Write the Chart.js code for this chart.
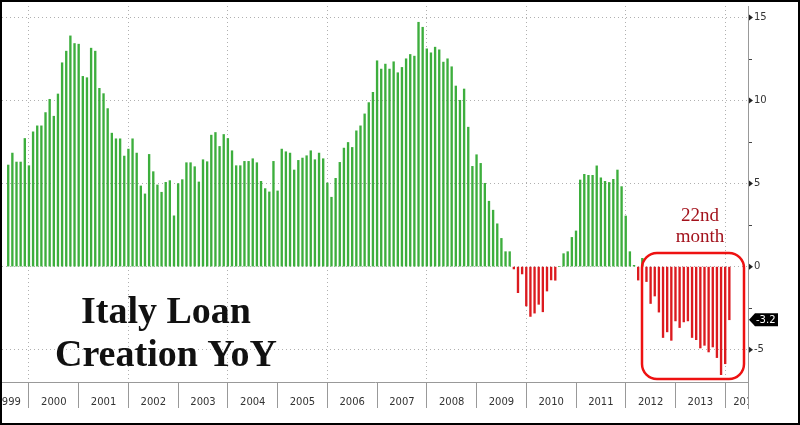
<!DOCTYPE html>
<html>
<head>
<meta charset="utf-8">
<title>Italy Loan Creation YoY</title>
<script src="https://cdn.jsdelivr.net/npm/chart.js@4.4.1/dist/chart.umd.min.js"></script>
<style>
  html, body { margin: 0; padding: 0; background: #fff; }
  canvas { display: block; }
</style>
</head>
<body>
<canvas id="chart" width="800" height="425"></canvas>
<script>
// Italy loan creation, % YoY, monthly (Jul 1999 - Jan 2014)
const y1999 = [6.12, 6.84, 6.3, 6.3, 7.72, 6.08];
const y2000 = [8.12, 8.48, 8.48, 9.28, 10.08, 9.06, 10.4, 12.28, 12.98, 13.9, 13.44, 13.4];
const y2001 = [11.46, 11.38, 13.16, 12.98, 10.74, 10.42, 9.52, 8.04, 7.7, 7.7, 6.66, 7.08];
const y2002 = [7.7, 6.84, 4.86, 4.38, 6.76, 5.72, 4.92, 4.48, 5.08, 5.18, 3.06, 5.0];
const y2003 = [5.24, 6.26, 6.26, 6.02, 5.1, 6.44, 6.32, 7.92, 8.08, 7.24, 7.96, 7.72];
const y2004 = [6.98, 6.08, 6.08, 6.34, 6.34, 6.5, 6.26, 5.14, 4.7, 4.5, 6.34, 4.56];
const y2005 = [7.08, 6.92, 6.84, 5.82, 6.4, 6.54, 6.68, 6.98, 6.44, 6.84, 6.5, 5.04];
const y2006 = [4.18, 5.32, 6.28, 7.14, 7.48, 7.18, 8.18, 8.48, 9.2, 9.88, 10.5, 12.4];
const y2007 = [11.9, 12.2, 11.9, 12.34, 11.68, 12.0, 12.52, 12.78, 12.68, 14.72, 14.42, 13.12];
const y2008 = [12.88, 13.22, 13.06, 12.32, 12.52, 12.04, 10.88, 10.02, 10.7, 8.4, 6.04, 6.74];
const y2009 = [6.22, 5.02, 3.94, 3.4, 2.58, 1.7, 0.9, 0.9, -0.14, -1.57, -0.44, -2.37];
const y2010 = [-3.0, -2.8, -2.27, -2.72, -1.47, -0.8, -0.82, 0, 0.78, 0.9, 1.76, 2.15];
const y2011 = [5.22, 5.56, 5.5, 5.5, 6.07, 5.35, 5.14, 5.07, 5.26, 5.82, 4.82, 3.05];
const y2012 = [0.9, 0.08, -0.81, 0.5, -0.9, -2.22, -1.77, -2.74, -4.27, -3.93, -4.44, -3.27];
const y2013 = [-3.67, -3.33, -3.27, -4.27, -4.4, -4.9, -4.74, -5.14, -4.84, -5.48, -6.51, -5.85];
const y2014 = [-3.2];

// x axis tick labels and the month each one sits on
const yearLabels = ['1999', '2000', '2001', '2002', '2003', '2004', '2005', '2006',
  '2007', '2008', '2009', '2010', '2011', '2012', '2013', '2014'];
const yearLabelAt = ['1999-07', '2000-06', '2001-06', '2002-06', '2003-06', '2004-06', '2005-06', '2006-06',
  '2007-06', '2008-06', '2009-06', '2010-06', '2011-06', '2012-06', '2013-06', '2014-05'];

// month categories, Jun 1999 .. May 2014 (empty months pad both ends)
const months = [];
for (let yr = 1999; yr <= 2014; yr++) {
  for (let m = 1; m <= 12; m++) {
    const key = yr + '-' + String(m).padStart(2, '0');
    if (key >= '1999-06' && key <= '2014-05') months.push(key);
  }
}
const values = [null].concat(y1999, y2000, y2001, y2002, y2003, y2004, y2005, y2006,
  y2007, y2008, y2009, y2010, y2011, y2012, y2013, y2014, [null, null, null, null]);

const GREEN = '#3dae3d';
const RED = '#dc1a1f';
const GRID = '#b0b0b0';
const NONE = 'rgba(0,0,0,0)';

// extra drawing: axis markers, last value tag, titles, red box, frame
const overlay = {
  id: 'overlay',
  afterDraw(chart) {
    const ctx = chart.ctx;
    const area = chart.chartArea;
    const yScale = chart.scales.y;
    ctx.save();

    // clip x labels past the right axis
    ctx.fillStyle = '#fff';
    ctx.fillRect(area.right + 1, area.bottom + 1, 60, 40);

    // axis line runs down through the label strip
    ctx.strokeStyle = '#999';
    ctx.lineWidth = 1;
    ctx.beginPath();
    ctx.moveTo(area.right + 0.5, area.bottom);
    ctx.lineTo(area.right + 0.5, area.bottom + 27);
    ctx.stroke();

    // little pointers on the major y ticks
    ctx.fillStyle = '#222';
    [-5, 0, 5, 10, 15].forEach(v => {
      const py = yScale.getPixelForValue(v);
      ctx.beginPath();
      ctx.moveTo(area.right + 1, py - 3);
      ctx.lineTo(area.right + 5, py);
      ctx.lineTo(area.right + 1, py + 3);
      ctx.closePath();
      ctx.fill();
    });

    // last value tag
    const last = y2014[y2014.length - 1];
    const ty = yScale.getPixelForValue(last);
    ctx.fillStyle = '#000';
    ctx.beginPath();
    ctx.moveTo(area.right + 1, ty);
    ctx.lineTo(area.right + 7, ty - 6.5);
    ctx.lineTo(area.right + 30, ty - 6.5);
    ctx.lineTo(area.right + 30, ty + 6.5);
    ctx.lineTo(area.right + 7, ty + 6.5);
    ctx.closePath();
    ctx.fill();
    ctx.fillStyle = '#fff';
    ctx.font = '10px "DejaVu Sans"';
    ctx.textAlign = 'left';
    ctx.textBaseline = 'middle';
    ctx.fillText(last.toFixed(1), area.right + 8, ty + 0.5);

    // title
    ctx.fillStyle = '#111';
    ctx.font = 'bold 38px "Liberation Serif"';
    ctx.textAlign = 'center';
    ctx.textBaseline = 'alphabetic';
    ctx.fillText('Italy Loan', 166, 323);
    ctx.fillText('Creation YoY', 166, 366);

    // annotation
    ctx.fillStyle = '#a3121c';
    ctx.font = '19px "Liberation Serif"';
    ctx.fillText('22nd', 700, 221);
    ctx.fillText('month', 700, 242);

    ctx.strokeStyle = '#ee1111';
    ctx.lineWidth = 2.5;
    ctx.beginPath();
    ctx.roundRect(642, 253, 102, 126, 15);
    ctx.stroke();

    // frame
    ctx.strokeStyle = '#000';
    ctx.lineWidth = 2;
    ctx.strokeRect(1, 1, 798, 423);
    ctx.restore();
  }
};

new Chart(document.getElementById('chart'), {
  type: 'bar',
  data: {
    labels: months,
    datasets: [{
      data: values,
      backgroundColor: ctx => (ctx.raw >= 0 ? GREEN : RED),
      barThickness: 1.7,
      borderWidth: 0
    }]
  },
  options: {
    responsive: false,
    animation: false,
    layout: { padding: { left: 2, right: 2, top: 6, bottom: 2 } },
    plugins: {
      legend: { display: false },
      tooltip: { enabled: false }
    },
    scales: {
      x: {
        type: 'category',
        offset: true,
        grid: {
          offset: false,
          color: ctx => {
            const k = months[ctx.index];
            if (!k) return NONE;
            const parts = k.split('-');
            return parts[1] === '12' && Number(parts[0]) % 2 === 1 ? GRID : NONE;
          },
          tickColor: ctx => {
            const k = months[ctx.index];
            return k && k.endsWith('-12') ? '#999' : NONE;
          },
          tickLength: 26,
          lineWidth: 1
        },
        border: { display: true, color: '#999', width: 1, dash: [1, 3] },
        ticks: {
          autoSkip: false,
          maxRotation: 0,
          minRotation: 0,
          padding: -12,
          color: '#333',
          font: { family: 'DejaVu Sans', size: 10 },
          callback: (value, index) => {
            const i = yearLabelAt.indexOf(months[index]);
            return i >= 0 ? yearLabels[i] : '';
          }
        },
        afterFit: scale => {
          scale.height = 41;
          scale.paddingLeft = 0;
          scale.paddingRight = 0;
        }
      },
      y: {
        position: 'right',
        min: -6.95,
        max: 15.7,
        grid: {
          color: ctx => (ctx.tick && ctx.tick.value % 5 === 0 ? GRID : NONE),
          tickColor: '#444',
          tickLength: 4,
          lineWidth: 1
        },
        border: { display: true, color: '#999', width: 1, dash: [1, 3] },
        ticks: {
          stepSize: 2.5,
          includeBounds: false,
          padding: 2,
          color: '#333',
          font: { family: 'DejaVu Sans', size: 10 },
          callback: v => (v % 5 === 0 ? String(v) : '')
        },
        afterFit: scale => {
          scale.width = 50;
          scale.paddingTop = 0;
          scale.paddingBottom = 0;
        }
      }
    }
  },
  plugins: [overlay]
});
</script>
</body>
</html>
